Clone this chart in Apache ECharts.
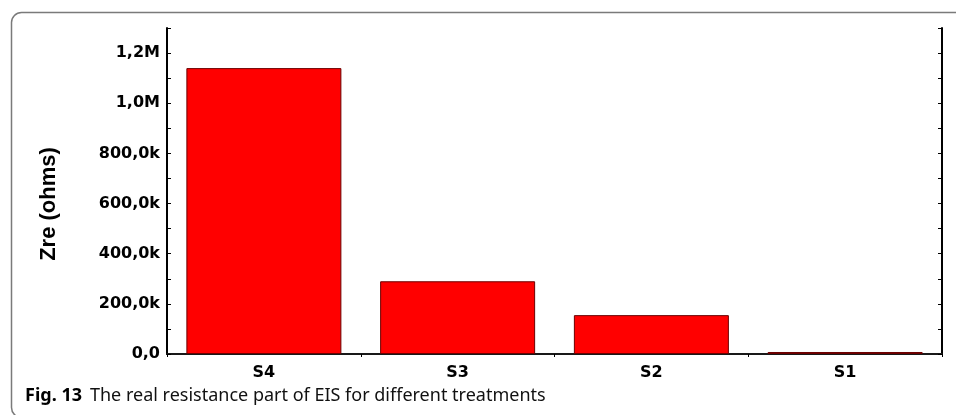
<!DOCTYPE html>
<html><head><meta charset="utf-8">
<script src="https://cdn.jsdelivr.net/npm/echarts@6/dist/echarts.min.js"></script>
<style>html,body{margin:0;padding:0;background:#fff}#c{width:956px;height:415px}</style>
</head><body><div id="c"></div>
<script>
const categories = ['S4', 'S3', 'S2', 'S1'];
const zreValues = [1140000, 290000, 155000, 8000];
const yTitle = 'Zre (ohms)';
const captionBold = 'Fig. 13';
const captionText = 'The real resistance part of EIS for different treatments';

function fmt(v) {
  if (v % 200000 !== 0) return '';
  if (v === 0) return '0,0';
  if (v >= 1000000) return (v / 1000000).toFixed(1).replace('.', ',') + 'M';
  return (v / 1000).toFixed(1).replace('.', ',') + 'k';
}
const chart = echarts.init(document.getElementById('c'), null, {renderer: 'canvas'});
const labelFont = {fontFamily: 'DejaVu Sans', fontWeight: 'bold', fontSize: 16, color: '#000'};
chart.setOption({
  animation: false,
  backgroundColor: '#fff',
  grid: {left: 167, top: 28, right: 14, bottom: 61, containLabel: false},
  xAxis: [{
    type: 'category', data: categories, position: 'bottom',
    axisLine: {lineStyle: {color: '#000', width: 2}},
    axisTick: {show: false},
    axisLabel: Object.assign({margin: 11}, labelFont)
  }, {
    type: 'category', data: categories, position: 'top',
    axisLine: {lineStyle: {color: '#222', width: 1.5}},
    axisTick: {show: true, inside: true, length: 3, lineStyle: {color: '#000'}},
    axisLabel: {show: false}
  }],
  yAxis: [{
    type: 'value', min: 0, max: 1300000, interval: 100000, position: 'left',
    name: yTitle, nameLocation: 'middle', nameRotate: 90, nameGap: 107,
    nameTextStyle: {fontFamily: 'Liberation Sans', fontWeight: 'bold', fontSize: 22, color: '#000', padding: [0, 26, 0, 0]},
    axisLine: {show: true, lineStyle: {color: '#000', width: 2}},
    axisTick: {show: true, inside: true, length: 4, lineStyle: {color: '#000'}},
    axisLabel: Object.assign({margin: 7, formatter: fmt}, labelFont),
    splitLine: {show: false}
  }, {
    type: 'value', min: 0, max: 1300000, interval: 100000, position: 'right',
    axisLine: {show: true, lineStyle: {color: '#000', width: 2}},
    axisTick: {show: true, inside: true, length: 4, lineStyle: {color: '#000'}},
    axisLabel: {show: false},
    splitLine: {show: false}
  }],
  series: [{
    type: 'bar', data: zreValues, barWidth: '80%', xAxisIndex: 0, yAxisIndex: 0,
    itemStyle: {color: '#ff0000', borderColor: '#6b0000', borderWidth: 1}
  }],
  graphic: [{
    type: 'rect', left: 9, top: 10, z: -1,
    shape: {width: 980, height: 405, r: 10},
    style: {fill: 'none', stroke: '#7a7a7a', lineWidth: 1.5}
  }, {
    type: 'text', left: 25, top: 387,
    style: {
      text: '{b|' + captionBold + '}{r|' + captionText + '}',
      rich: {
        b: {fontFamily: 'Noto Sans', fontWeight: 'bold', fontSize: 18, fill: '#000', padding: [0, 8, 0, 0]},
        r: {fontFamily: 'Noto Sans', fontSize: 18, fill: '#111'}
      }
    }
  }]
});
</script></body></html>
